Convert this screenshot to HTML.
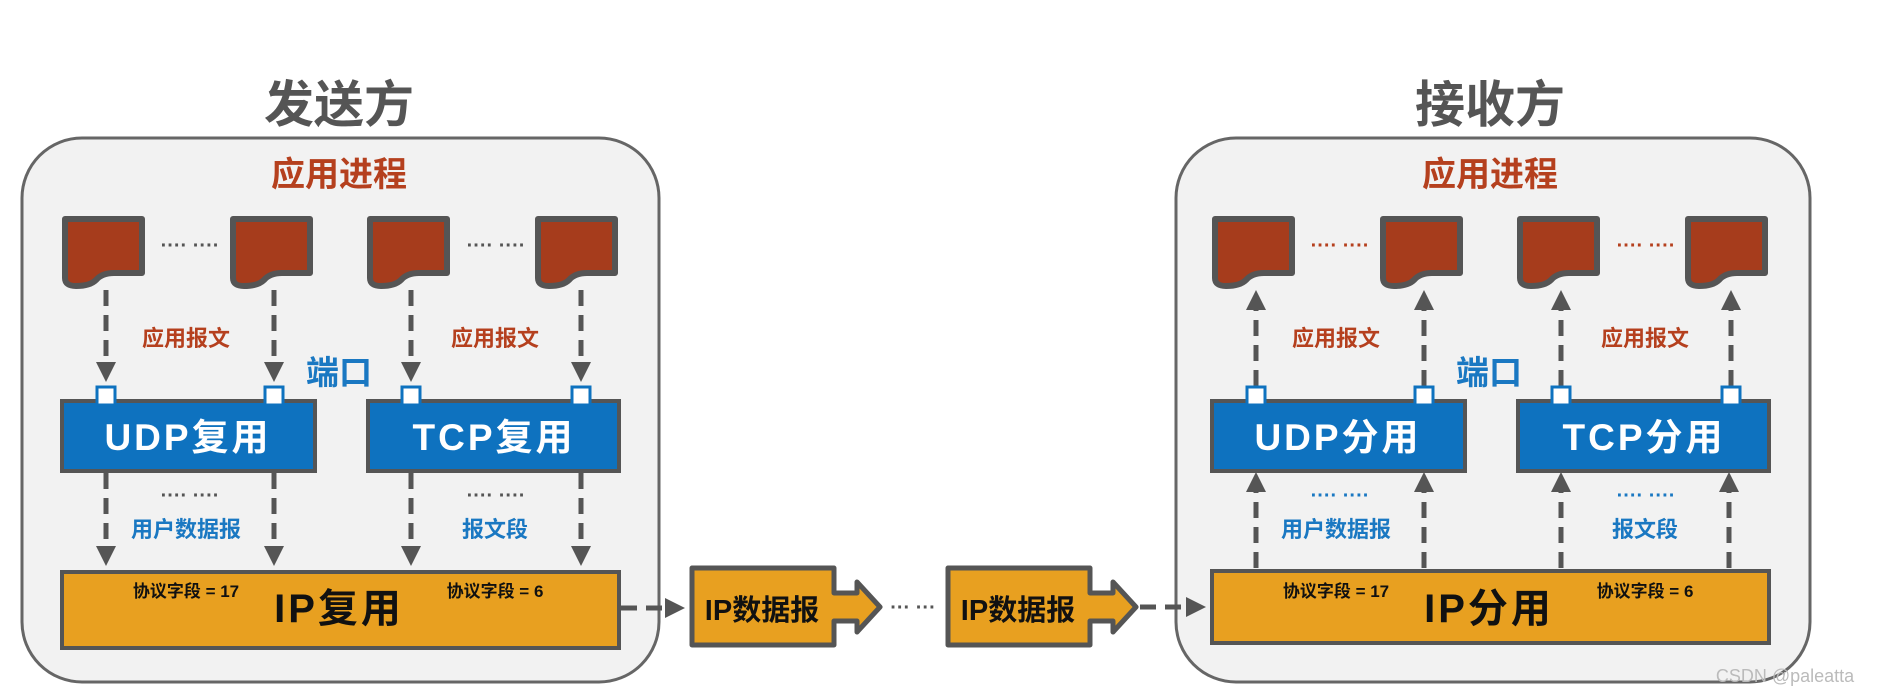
<!DOCTYPE html>
<html><head><meta charset="utf-8"><style>
html,body{margin:0;padding:0;background:#fff;}
svg{display:block;}
text{font-family:"Liberation Sans","Noto Sans CJK SC",sans-serif;font-weight:bold;}
</style></head><body>
<svg width="1885" height="698" viewBox="0 0 1885 698" xmlns="http://www.w3.org/2000/svg">
<defs>
<marker id="ah" markerWidth="4" markerHeight="4" refX="2" refY="2" orient="auto" markerUnits="strokeWidth">
<path d="M0,0 L4,2 L0,4 Z" fill="#555"/></marker>
<g id="doc"><path d="M3,3 H80 V57 H52 Q40,57 34,64 Q28,70 14,70 Q3,70 3,62 Z" fill="#a63c1c" stroke="#555" stroke-width="6" stroke-linejoin="round"/></g>
</defs>

<!-- LEFT PANEL -->
<text x="339" y="122" font-size="50" fill="#555" text-anchor="middle">发送方</text>
<rect x="22" y="138" width="637" height="544" rx="60" fill="#f2f2f2" stroke="#666" stroke-width="3"/>
<text x="339" y="186" font-size="34" fill="#b5401e" text-anchor="middle">应用进程</text>
<use href="#doc" x="62" y="216"/><use href="#doc" x="230" y="216"/>
<use href="#doc" x="367" y="216"/><use href="#doc" x="535" y="216"/>
<text x="190" y="252" font-size="20" fill="#555" text-anchor="middle">···· ····</text>
<text x="496" y="252" font-size="20" fill="#555" text-anchor="middle">···· ····</text>
<g stroke="#555" stroke-width="5" stroke-dasharray="16,9" marker-end="url(#ah)" fill="none">
<path d="M106,290 V372"/><path d="M274,290 V372"/><path d="M411,290 V372"/><path d="M581,290 V372"/>
<path d="M106,473 V556"/><path d="M274,473 V556"/><path d="M411,473 V556"/><path d="M581,473 V556"/>
</g>
<text x="186" y="346" font-size="22" fill="#b5401e" text-anchor="middle">应用报文</text>
<text x="495" y="346" font-size="22" fill="#b5401e" text-anchor="middle">应用报文</text>
<text x="339" y="384" font-size="33" fill="#1a78c2" text-anchor="middle">端口</text>
<rect x="62" y="401" width="253" height="70" fill="#0e72bf" stroke="#555" stroke-width="4"/>
<rect x="368" y="401" width="251" height="70" fill="#0e72bf" stroke="#555" stroke-width="4"/>
<g fill="#fff" stroke="#0e72bf" stroke-width="3">
<rect x="97" y="387" width="18" height="18"/><rect x="265" y="387" width="18" height="18"/>
<rect x="402" y="387" width="18" height="18"/><rect x="572" y="387" width="18" height="18"/></g>
<text x="188" y="450" font-size="37" fill="#fff" text-anchor="middle" letter-spacing="3">UDP复用</text>
<text x="494" y="450" font-size="37" fill="#fff" text-anchor="middle" letter-spacing="3">TCP复用</text>
<text x="190" y="502" font-size="20" fill="#555" text-anchor="middle">···· ····</text>
<text x="496" y="502" font-size="20" fill="#555" text-anchor="middle">···· ····</text>
<text x="186" y="537" font-size="22" fill="#1a78c2" text-anchor="middle">用户数据报</text>
<text x="495" y="537" font-size="22" fill="#1a78c2" text-anchor="middle">报文段</text>
<rect x="62" y="572" width="557" height="76" fill="#e8a020" stroke="#555" stroke-width="4"/>
<text x="186" y="597" font-size="17" fill="#111" text-anchor="middle">协议字段 = 17</text>
<text x="495" y="597" font-size="17" fill="#111" text-anchor="middle">协议字段 = 6</text>
<text x="339" y="622" font-size="40" fill="#111" text-anchor="middle" letter-spacing="3">IP复用</text>

<!-- RIGHT PANEL -->
<text x="1490" y="122" font-size="50" fill="#555" text-anchor="middle">接收方</text>
<rect x="1176" y="138" width="634" height="544" rx="60" fill="#f2f2f2" stroke="#666" stroke-width="3"/>
<text x="1490" y="186" font-size="34" fill="#b5401e" text-anchor="middle">应用进程</text>
<use href="#doc" x="1212" y="216"/><use href="#doc" x="1380" y="216"/>
<use href="#doc" x="1517" y="216"/><use href="#doc" x="1685" y="216"/>
<text x="1340" y="252" font-size="20" fill="#b5401e" text-anchor="middle">···· ····</text>
<text x="1646" y="252" font-size="20" fill="#b5401e" text-anchor="middle">···· ····</text>
<g stroke="#555" stroke-width="5" stroke-dasharray="16,9" marker-end="url(#ah)" fill="none">
<path d="M1256,386 V300"/><path d="M1424,386 V300"/><path d="M1561,386 V300"/><path d="M1731,386 V300"/>
<path d="M1256,568 V482"/><path d="M1424,568 V482"/><path d="M1561,568 V482"/><path d="M1729,568 V482"/>
</g>
<text x="1336" y="346" font-size="22" fill="#b5401e" text-anchor="middle">应用报文</text>
<text x="1645" y="346" font-size="22" fill="#b5401e" text-anchor="middle">应用报文</text>
<text x="1489" y="384" font-size="33" fill="#1a78c2" text-anchor="middle">端口</text>
<rect x="1212" y="401" width="253" height="70" fill="#0e72bf" stroke="#555" stroke-width="4"/>
<rect x="1518" y="401" width="251" height="70" fill="#0e72bf" stroke="#555" stroke-width="4"/>
<g fill="#fff" stroke="#0e72bf" stroke-width="3">
<rect x="1247" y="387" width="18" height="18"/><rect x="1415" y="387" width="18" height="18"/>
<rect x="1552" y="387" width="18" height="18"/><rect x="1722" y="387" width="18" height="18"/></g>
<text x="1338" y="450" font-size="37" fill="#fff" text-anchor="middle" letter-spacing="3">UDP分用</text>
<text x="1644" y="450" font-size="37" fill="#fff" text-anchor="middle" letter-spacing="3">TCP分用</text>
<text x="1340" y="502" font-size="20" fill="#1a78c2" text-anchor="middle">···· ····</text>
<text x="1646" y="502" font-size="20" fill="#1a78c2" text-anchor="middle">···· ····</text>
<text x="1336" y="537" font-size="22" fill="#1a78c2" text-anchor="middle">用户数据报</text>
<text x="1645" y="537" font-size="22" fill="#1a78c2" text-anchor="middle">报文段</text>
<rect x="1212" y="571" width="557" height="72" fill="#e8a020" stroke="#555" stroke-width="4"/>
<text x="1336" y="597" font-size="17" fill="#111" text-anchor="middle">协议字段 = 17</text>
<text x="1645" y="597" font-size="17" fill="#111" text-anchor="middle">协议字段 = 6</text>
<text x="1489" y="622" font-size="40" fill="#111" text-anchor="middle" letter-spacing="3">IP分用</text>

<!-- MIDDLE -->
<path d="M621,608 H675" stroke="#555" stroke-width="5" stroke-dasharray="16,9" marker-end="url(#ah)" fill="none"/>
<g fill="#e8a020" stroke="#555" stroke-width="5" stroke-linejoin="round">
<path d="M692,568 H834 V593 H857 V582 L880,607 L857,632 V621 H834 V645 H692 Z"/>
<path d="M948,568 H1090 V593 H1113 V582 L1136,607 L1113,632 V621 H1090 V645 H948 Z"/>
</g>
<text x="762" y="620" font-size="29" fill="#111" text-anchor="middle">IP数据报</text>
<text x="1018" y="620" font-size="29" fill="#111" text-anchor="middle">IP数据报</text>
<text x="913" y="614" font-size="20" fill="#555" text-anchor="middle">··· ···</text>
<path d="M1140,607 H1196" stroke="#555" stroke-width="5" stroke-dasharray="16,9" marker-end="url(#ah)" fill="none"/>

<text x="1785" y="682" font-size="18" fill="#bbb" text-anchor="middle" style="font-weight:normal">CSDN @paleatta</text>
</svg>
</body></html>
